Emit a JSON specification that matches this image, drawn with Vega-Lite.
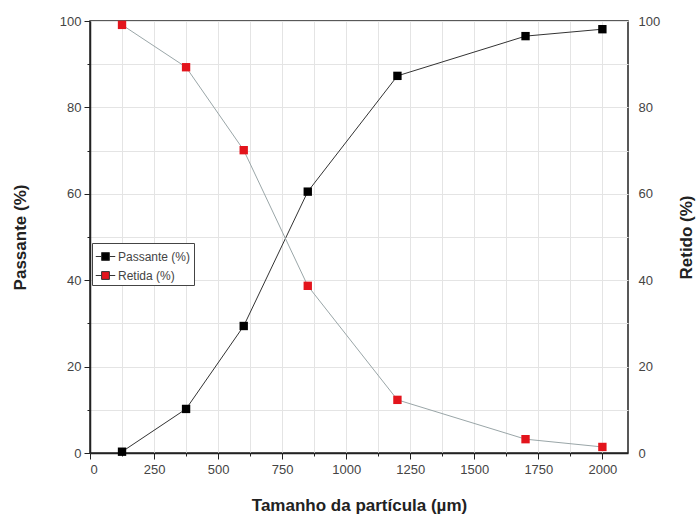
{
  "$schema": "https://vega.github.io/schema/vega-lite/v6.json",
  "width": 538,
  "height": 432,
  "autosize": "none",
  "padding": {"left": 90, "top": 21, "right": 69, "bottom": 71},
  "background": "white",
  "config": {
    "view": {"stroke": "#222", "strokeWidth": 1.5},
    "font": "Liberation Sans"
  },
  "data": {
    "values": [
      {"tamanho": 125, "serie": "Passante (%)", "valor": 0.3},
      {"tamanho": 375, "serie": "Passante (%)", "valor": 10.2},
      {"tamanho": 600, "serie": "Passante (%)", "valor": 29.4},
      {"tamanho": 850, "serie": "Passante (%)", "valor": 60.5},
      {"tamanho": 1200, "serie": "Passante (%)", "valor": 87.3},
      {"tamanho": 1700, "serie": "Passante (%)", "valor": 96.5},
      {"tamanho": 2000, "serie": "Passante (%)", "valor": 98.1},
      {"tamanho": 125, "serie": "Retida (%)", "valor": 99.1},
      {"tamanho": 375, "serie": "Retida (%)", "valor": 89.3},
      {"tamanho": 600, "serie": "Retida (%)", "valor": 70.1},
      {"tamanho": 850, "serie": "Retida (%)", "valor": 38.7},
      {"tamanho": 1200, "serie": "Retida (%)", "valor": 12.3},
      {"tamanho": 1700, "serie": "Retida (%)", "valor": 3.2},
      {"tamanho": 2000, "serie": "Retida (%)", "valor": 1.4}
    ]
  },
  "encoding": {
    "x": {
      "field": "tamanho",
      "type": "quantitative",
      "scale": {"domain": [0, 2100], "nice": false, "zero": false},
      "axis": {
        "title": "Tamanho da partícula (µm)",
        "titleFontSize": 17,
        "titleFontWeight": "bold",
        "titleColor": "#222",
        "titlePadding": 21,
        "values": [0, 125, 250, 375, 500, 625, 750, 875, 1000, 1125, 1250, 1375, 1500, 1625, 1750, 1875, 2000],
        "labelExpr": "datum.value % 250 === 0 ? datum.label : ''",
        "format": "d",
        "labelFontSize": 13,
        "labelColor": "#444",
        "labelPadding": 4,
        "tickColor": "#222",
        "tickSize": {"condition": {"test": "datum.value % 250 === 0", "value": 6}, "value": 3},
        "domainColor": "#222",
        "domainWidth": 1.5,
        "grid": true,
        "gridColor": "#e4e4e4",
        "gridWidth": 1
      }
    }
  },
  "layer": [
    {
      "transform": [{"filter": "datum.serie === 'Passante (%)'"}],
      "encoding": {
        "y": {
          "field": "valor",
          "type": "quantitative",
          "scale": {"domain": [0, 100], "nice": false},
          "axis": {
            "orient": "left",
            "title": "Passante (%)",
            "titleFontSize": 17,
            "titleFontWeight": "bold",
            "titleColor": "#222",
            "titlePadding": 30,
            "values": [0, 10, 20, 30, 40, 50, 60, 70, 80, 90, 100],
            "labelExpr": "datum.value % 20 === 0 ? datum.label : ''",
            "labelFontSize": 13,
            "labelColor": "#444",
            "labelPadding": 3,
            "tickColor": "#222",
            "tickSize": {"condition": {"test": "datum.value % 20 === 0", "value": 6}, "value": 3},
            "domainColor": "#222",
            "domainWidth": 1.5,
            "grid": true,
            "gridColor": "#e4e4e4",
            "gridWidth": 1
          }
        },
        "color": {
          "field": "serie",
          "type": "nominal",
          "scale": {"domain": ["Passante (%)", "Retida (%)"], "range": ["#000000", "#e3141c"]},
          "legend": {
            "title": null,
            "orient": "none",
            "legendX": 2,
            "legendY": 222,
            "strokeColor": "#444",
            "fillColor": "white",
            "padding": 3,
            "labelFontSize": 12,
            "labelColor": "#444",
            "symbolType": "M-1,0H-0.4M0.4,0H1M-0.4,-0.4H0.4V0.4H-0.4Z",
            "symbolSize": 380,
            "symbolStrokeColor": "#333",
            "symbolStrokeWidth": 1,
            "rowPadding": 2,
            "labelOffset": 2
          }
        }
      },
      "layer": [
        {"mark": {"type": "line", "strokeWidth": 1}, "encoding": {"color": {"value": "#333"}}},
        {"mark": {"type": "point", "shape": "square", "filled": true, "size": 70, "opacity": 1}}
      ]
    },
    {
      "transform": [{"filter": "datum.serie === 'Retida (%)'"}],
      "encoding": {
        "y": {
          "field": "valor",
          "type": "quantitative",
          "scale": {"domain": [0, 100], "nice": false},
          "axis": {
            "orient": "right",
            "title": "Retido (%)",
            "titleAngle": 270,
            "titleFontSize": 17,
            "titleFontWeight": "bold",
            "titleColor": "#222",
            "titlePadding": 36,
            "values": [0, 20, 40, 60, 80, 100],
            "labelFontSize": 13,
            "labelColor": "#444",
            "labelPadding": 10,
            "ticks": false,
            "domain": false,
            "grid": false
          }
        },
        "color": {"field": "serie", "type": "nominal"}
      },
      "layer": [
        {"mark": {"type": "line", "strokeWidth": 1}, "encoding": {"color": {"value": "#9aa6a8"}}},
        {"mark": {"type": "point", "shape": "square", "filled": true, "size": 70, "opacity": 1}}
      ]
    }
  ],
  "resolve": {"scale": {"y": "independent"}}
}
